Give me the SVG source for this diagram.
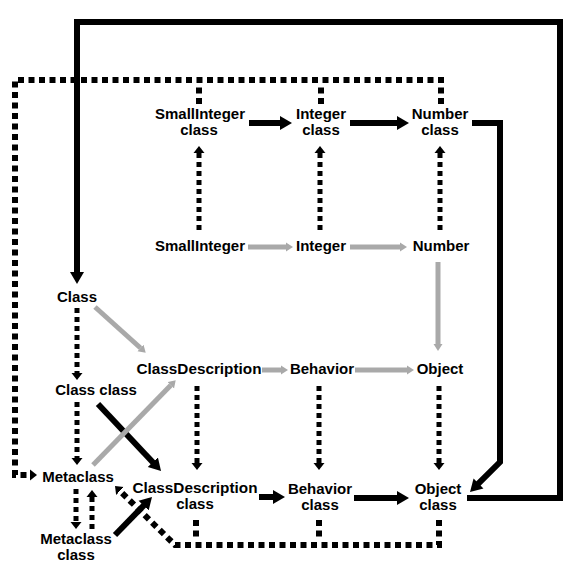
<svg xmlns="http://www.w3.org/2000/svg" width="578" height="575" viewBox="0 0 578 575">
<style>
.t{font-family:"Liberation Sans",Arial,Helvetica,sans-serif;font-weight:bold;font-size:15px;fill:#000;text-anchor:middle}
.solid{fill:none;stroke:#000;stroke-width:6}
.gray{fill:none;stroke:#a9a9a9;stroke-width:5}
.loop{fill:none;stroke:#000;stroke-width:6;stroke-dasharray:6 4.5}
.dot{fill:none;stroke:#000;stroke-width:5;stroke-dasharray:5 4}
</style>
<defs>
<marker id="ah" markerUnits="userSpaceOnUse" markerWidth="14" markerHeight="16" viewBox="0 -8 14 16" refX="1" refY="0" orient="auto"><path d="M0,-7 L12,0 L0,7z" fill="#000"/></marker>
<marker id="dh" markerUnits="userSpaceOnUse" markerWidth="10" markerHeight="12" viewBox="0 -6 10 12" refX="0" refY="0" orient="auto"><path d="M0,-5.5 L7,0 L0,5.5z" fill="#000"/></marker>
<marker id="gh" markerUnits="userSpaceOnUse" markerWidth="9" markerHeight="10" viewBox="0 -5 9 10" refX="0" refY="0" orient="auto"><path d="M0,-4.5 L7,0 L0,4.5z" fill="#a9a9a9"/></marker>
</defs>
<g id="connectors">
<path class="loop" d="M441,104 V80 H15 V475 H30" marker-end="url(#dh)"/>
<path class="loop" d="M199,104 V84"/>
<path class="loop" d="M321,104 V84"/>
<path class="loop" d="M439,520 V545 H175 L120,491" marker-end="url(#dh)"/>
<path class="loop" d="M319,520 V541"/>
<path class="loop" d="M196,520 V541"/>
<path class="dot" d="M199,230 V153" marker-end="url(#dh)"/>
<path class="dot" d="M320,230 V153" marker-end="url(#dh)"/>
<path class="dot" d="M440,230 V153" marker-end="url(#dh)"/>
<path class="dot" d="M77,308 V373" marker-end="url(#dh)"/>
<path class="dot" d="M77,402 V458" marker-end="url(#dh)"/>
<path class="dot" d="M197,386 V463" marker-end="url(#dh)"/>
<path class="dot" d="M319,386 V463" marker-end="url(#dh)"/>
<path class="dot" d="M439,386 V463" marker-end="url(#dh)"/>
<path class="dot" d="M76,489 V522" marker-end="url(#dh)"/>
<path class="dot" d="M92,529 V497" marker-end="url(#dh)"/>
<path class="solid" d="M249,123 H281" marker-end="url(#ah)"/>
<path class="solid" d="M350,123 H398" marker-end="url(#ah)"/>
<path class="solid" d="M259,497 H274" marker-end="url(#ah)"/>
<path class="solid" d="M354,498 H398" marker-end="url(#ah)"/>
<path class="solid" d="M98,404 L153.5,463" marker-end="url(#ah)"/>
<path class="solid" d="M115,535 L144.3,504.9" marker-end="url(#ah)"/>
<path class="solid" d="M467,498 H560 V22 H77 V273" marker-end="url(#ah)"/>
<path class="solid" d="M472,123 H500 V462 L477.8,484.2" marker-end="url(#ah)"/>
<path class="gray" d="M248,247 H286" marker-end="url(#gh)"/>
<path class="gray" d="M350,247 H400" marker-end="url(#gh)"/>
<path class="gray" d="M438,262 V344" marker-end="url(#gh)"/>
<path class="gray" d="M95,307 L140.5,348" marker-end="url(#gh)"/>
<path class="gray" d="M262,370 H281" marker-end="url(#gh)"/>
<path class="gray" d="M355,370 H407" marker-end="url(#gh)"/>
<path class="gray" d="M93,465 L170.8,385.3" marker-end="url(#gh)"/>
</g>
<g id="smallinteger-class"><text class="t" x="200" y="119">SmallInteger</text><text class="t" x="199" y="135">class</text></g>
<g id="integer-class"><text class="t" x="321" y="119">Integer</text><text class="t" x="321" y="135">class</text></g>
<g id="number-class"><text class="t" x="440" y="119">Number</text><text class="t" x="440" y="135">class</text></g>
<g id="smallinteger"><text class="t" x="200" y="251">SmallInteger</text></g>
<g id="integer"><text class="t" x="321" y="251">Integer</text></g>
<g id="number"><text class="t" x="441" y="251">Number</text></g>
<g id="class"><text class="t" x="77" y="302">Class</text></g>
<g id="classdescription"><text class="t" x="199" y="374" textLength="125" lengthAdjust="spacingAndGlyphs">ClassDescription</text></g>
<g id="behavior"><text class="t" x="322" y="374">Behavior</text></g>
<g id="object"><text class="t" x="440" y="374">Object</text></g>
<g id="class-class"><text class="t" x="96" y="395">Class class</text></g>
<g id="metaclass"><text class="t" x="78" y="482">Metaclass</text></g>
<g id="classdescription-class"><text class="t" x="195" y="493" textLength="125" lengthAdjust="spacingAndGlyphs">ClassDescription</text><text class="t" x="195" y="509">class</text></g>
<g id="behavior-class"><text class="t" x="320" y="494">Behavior</text><text class="t" x="320" y="510">class</text></g>
<g id="object-class"><text class="t" x="438" y="494">Object</text><text class="t" x="438" y="510">class</text></g>
<g id="metaclass-class"><text class="t" x="76" y="544">Metaclass</text><text class="t" x="76" y="560">class</text></g>
</svg>
